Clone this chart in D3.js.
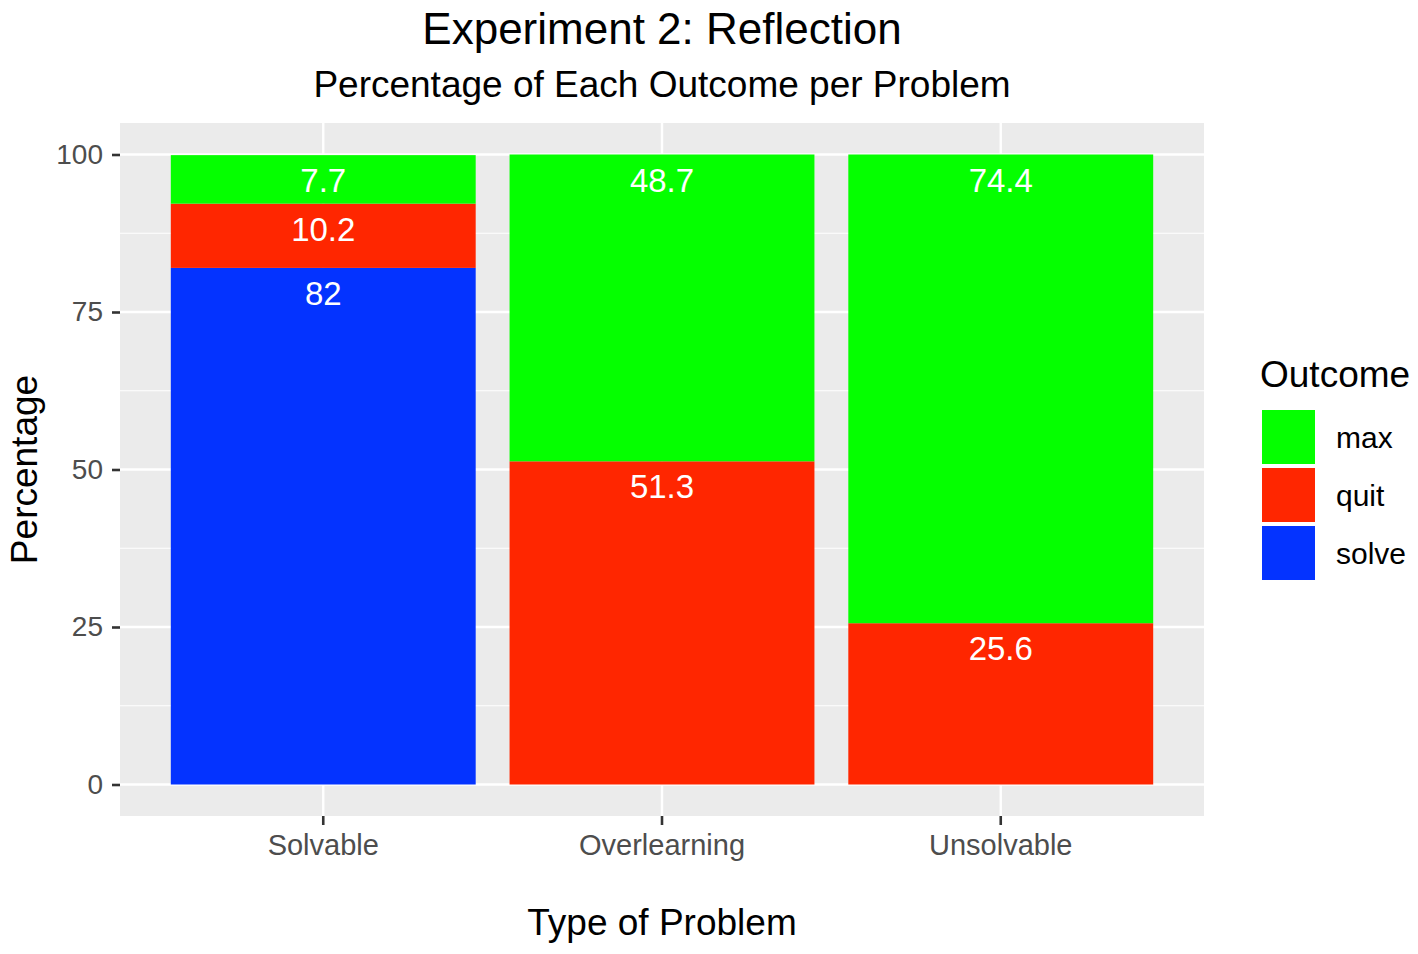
<!DOCTYPE html>
<html>
<head>
<meta charset="utf-8">
<script src="https://cdn.jsdelivr.net/npm/d3@7"></script>
<style>
  body { margin: 0; background: #fff; }
  text { font-family: "Liberation Sans", Arial, Helvetica, sans-serif; }
</style>
</head>
<body>
<div id="chart"></div>
<script>
// data
const problems = ["Solvable", "Overlearning", "Unsolvable"];
const outcomes = ["max", "quit", "solve"];
const solveVals = [82, 0, 0];
const quitVals = [10.2, 51.3, 25.6];
const maxVals = [7.7, 48.7, 74.4];
const yTicks = [0, 25, 50, 75, 100];
const colors = { max: "#05ff00", quit: "#ff2600", solve: "#0433ff" };

const width = 1418, height = 954;
const panel = { left: 120, right: 1204, top: 123, bottom: 816 };

const rows = problems.map((p, i) => ({ problem: p, solve: solveVals[i], quit: quitVals[i], max: maxVals[i] }));
// stack from bottom: solve, quit, max
const stacked = d3.stack().keys(["solve", "quit", "max"])(rows);

const svg = d3.select("#chart").append("svg")
    .attr("width", width)
    .attr("height", height);

// ggplot-like expansion: discrete 0.6 each side, continuous 5%
const x = d3.scaleBand()
    .domain(problems)
    .range([panel.left, panel.right])
    .paddingInner(0.1)
    .paddingOuter(0.15);

const y = d3.scaleLinear()
    .domain([-5, 105])
    .range([panel.bottom, panel.top]);

// panel background
svg.append("rect")
    .attr("x", panel.left).attr("y", panel.top)
    .attr("width", panel.right - panel.left)
    .attr("height", panel.bottom - panel.top)
    .attr("fill", "#ebebeb");

// minor grid
const minor = d3.range(12.5, 100, 25);
svg.append("g").selectAll("line")
    .data(minor)
    .join("line")
    .attr("x1", panel.left).attr("x2", panel.right)
    .attr("y1", d => y(d)).attr("y2", d => y(d))
    .attr("stroke", "#fff").attr("stroke-width", 1.2);

// major grid
svg.append("g").selectAll("line")
    .data(yTicks)
    .join("line")
    .attr("x1", panel.left).attr("x2", panel.right)
    .attr("y1", d => y(d)).attr("y2", d => y(d))
    .attr("stroke", "#fff").attr("stroke-width", 2.4);

svg.append("g").selectAll("line")
    .data(problems)
    .join("line")
    .attr("x1", d => x(d) + x.bandwidth() / 2).attr("x2", d => x(d) + x.bandwidth() / 2)
    .attr("y1", panel.top).attr("y2", panel.bottom)
    .attr("stroke", "#fff").attr("stroke-width", 2.4);

// bars
stacked.forEach(layer => {
    svg.append("g")
        .attr("fill", colors[layer.key])
        .selectAll("rect")
        .data(layer.filter(d => d[1] - d[0] > 0))
        .join("rect")
        .attr("x", d => x(d.data.problem))
        .attr("width", x.bandwidth())
        .attr("y", d => y(d[1]))
        .attr("height", d => y(d[0]) - y(d[1]));
});

// value labels near top of each segment
stacked.forEach(layer => {
    svg.append("g").selectAll("text")
        .data(layer.filter(d => d[1] - d[0] > 0))
        .join("text")
        .attr("x", d => x(d.data.problem) + x.bandwidth() / 2)
        .attr("y", d => y(Math.min(d[1], 100)) + 37)
        .attr("text-anchor", "middle")
        .attr("fill", "#fff")
        .attr("font-size", 33)
        .text(d => d[1] - d[0] === 82 ? "82" : d3.format(".1f")(d[1] - d[0]));
});

// y axis
const yAxis = svg.append("g")
    .attr("transform", `translate(${panel.left},0)`)
    .call(d3.axisLeft(y).tickValues(yTicks).tickSize(8).tickPadding(9));
yAxis.select(".domain").remove();
yAxis.selectAll(".tick line").attr("stroke", "#333").attr("stroke-width", 2.6);
yAxis.selectAll(".tick text").attr("fill", "#4d4d4d").attr("font-size", 28)
    .attr("font-family", "Liberation Sans, Arial, sans-serif");

// x axis
const xAxis = svg.append("g")
    .attr("transform", `translate(0,${panel.bottom})`)
    .call(d3.axisBottom(x).tickSize(9).tickPadding(9));
xAxis.select(".domain").remove();
xAxis.selectAll(".tick line").attr("stroke", "#333").attr("stroke-width", 2.6);
xAxis.selectAll(".tick text").attr("fill", "#4d4d4d").attr("font-size", 29)
    .attr("font-family", "Liberation Sans, Arial, sans-serif");

const cx = (panel.left + panel.right) / 2;

// titles
svg.append("text")
    .attr("x", cx).attr("y", 44)
    .attr("text-anchor", "middle")
    .attr("font-size", 44)
    .attr("fill", "#000")
    .text("Experiment 2: Reflection");

svg.append("text")
    .attr("x", cx).attr("y", 97)
    .attr("text-anchor", "middle")
    .attr("font-size", 37)
    .attr("fill", "#000")
    .text("Percentage of Each Outcome per Problem");

svg.append("text")
    .attr("x", cx).attr("y", 935)
    .attr("text-anchor", "middle")
    .attr("font-size", 37)
    .attr("fill", "#000")
    .text("Type of Problem");

svg.append("text")
    .attr("transform", `translate(37,${(panel.top + panel.bottom) / 2}) rotate(-90)`)
    .attr("text-anchor", "middle")
    .attr("font-size", 37)
    .attr("fill", "#000")
    .text("Percentage");

// legend
const legend = svg.append("g").attr("transform", "translate(1260,0)");
legend.append("text")
    .attr("x", 0).attr("y", 387)
    .attr("font-size", 37)
    .attr("fill", "#000")
    .text("Outcome");

const keys = legend.selectAll("g.key")
    .data(outcomes)
    .join("g")
    .attr("class", "key")
    .attr("transform", (d, i) => `translate(0,${410 + i * 58})`);

keys.append("rect")
    .attr("x", 2).attr("y", 0)
    .attr("width", 53).attr("height", 54)
    .attr("fill", d => colors[d]);

keys.append("text")
    .attr("x", 76).attr("y", 38)
    .attr("font-size", 30)
    .attr("fill", "#000")
    .text(d => d);
</script>
</body>
</html>
